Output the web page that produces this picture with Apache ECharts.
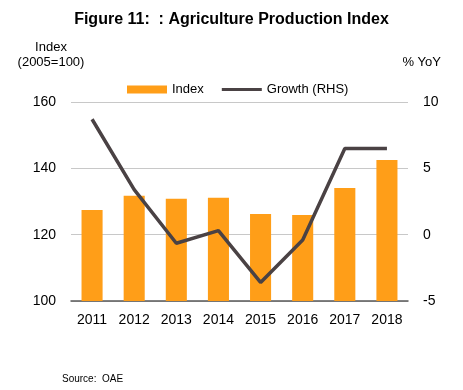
<!DOCTYPE html>
<html><head><meta charset="utf-8">
<script src="https://cdn.jsdelivr.net/npm/echarts@6/dist/echarts.min.js"></script>
<style>html,body{margin:0;padding:0;background:#fff}#c{width:463px;height:390px}</style>
</head><body><div id="c"></div>
<script>
var categories = ['2011','2012','2013','2014','2015','2016','2017','2018'];
var indexValues = [127.4, 131.7, 130.8, 131.1, 126.2, 125.9, 134.1, 142.5];
var growthValues = [8.7, 3.4, -0.65, 0.3, -3.6, -0.4, 6.5, 6.5];
var leftTicks = [100, 120, 140, 160];
var rightTicks = [-5, 0, 5, 10];

var FONT = 'Liberation Sans';
var chart = echarts.init(document.getElementById('c'), null, {renderer:'canvas'});
chart.setOption({
  animation: false,
  textStyle: {fontFamily: FONT},
  title: [
    {text: 'Figure 11:  : Agriculture Production Index', left: 'center', top: 7,
     textStyle: {fontFamily: FONT, fontWeight: 'bold', fontSize: 16, color: '#000'}},
    {text: 'Source:  OAE', left: 57, top: 369,
     textStyle: {fontFamily: FONT, fontWeight: 'normal', fontSize: 10, color: '#000'}}
  ],
  graphic: [
    {type:'text', style:{text:'Index', x:51, y:47, textAlign:'center', textVerticalAlign:'middle', font:'13px ' + FONT, fill:'#000'}},
    {type:'text', style:{text:'(2005=100)', x:51, y:62, textAlign:'center', textVerticalAlign:'middle', font:'13px ' + FONT, fill:'#000'}},
    {type:'text', style:{text:'% YoY', x:441, y:62, textAlign:'right', textVerticalAlign:'middle', font:'13px ' + FONT, fill:'#000'}}
  ],
  legend: {
    top: 78, left: 122, itemGap: 18, itemWidth: 40, itemHeight: 8,
    textStyle: {fontFamily: FONT, fontSize: 13, color: '#000'},
    data: [
      {name:'Index', icon:'rect'},
      {name:'Growth (RHS)', icon:'path://M0,0 L0.01,0 M0,2.5 L40,2.5 L40,5.5 L0,5.5 Z M0,8 L0.01,8'}
    ]
  },
  grid: {left: 71, right: 55, top: 102, bottom: 89},
  xAxis: {
    type: 'category', data: categories,
    axisTick: {show:false},
    axisLine: {onZero:false, lineStyle:{color:'#595959', width:1.5}},
    axisLabel: {color:'#000', fontSize: 14, margin: 12, fontFamily: FONT}
  },
  yAxis: [
    {type:'value', min: leftTicks[0], max: leftTicks[leftTicks.length-1], interval: 20,
     axisLine:{show:false}, axisTick:{show:false},
     axisLabel:{color:'#000', fontSize:14, margin: 15, fontFamily: FONT},
     splitLine:{lineStyle:{color:'#c8c8c8', width:1}}},
    {type:'value', min: rightTicks[0], max: rightTicks[rightTicks.length-1], interval: 5,
     axisLine:{show:false}, axisTick:{show:false},
     axisLabel:{color:'#000', fontSize:14, margin: 15, fontFamily: FONT},
     splitLine:{show:false}}
  ],
  series: [
    {name:'Index', type:'bar', data: indexValues, barWidth: '50%', yAxisIndex: 0,
     itemStyle:{color:'#FF9E18'}},
    {name:'Growth (RHS)', type:'line', data: growthValues, yAxisIndex: 1,
     symbol:'none', lineStyle:{color:'#4a4244', width:3.5}, itemStyle:{color:'#4a4244'}}
  ]
});
</script></body></html>
